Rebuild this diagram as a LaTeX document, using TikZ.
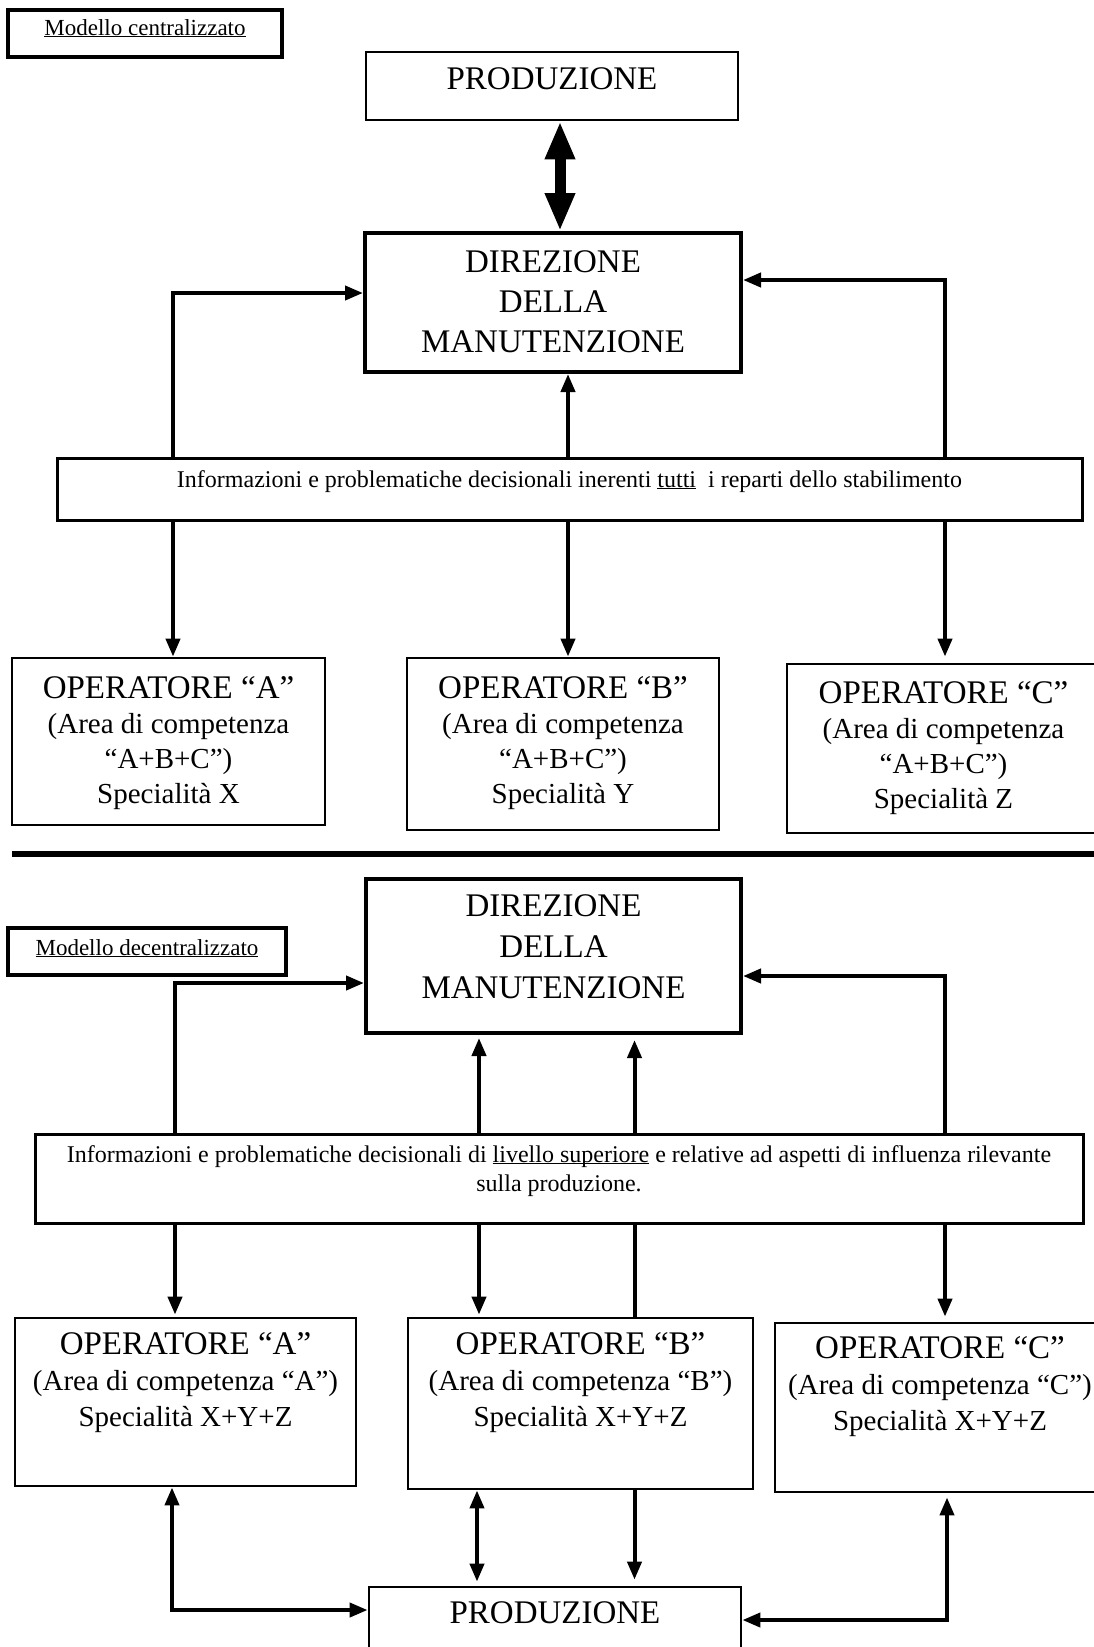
\documentclass[tikz,border=0pt]{standalone}
\usepackage{fontspec}
\setmainfont{Liberation Serif}
\usetikzlibrary{arrows.meta}
\newsavebox\ulbox
\newcommand\myul[1]{\sbox\ulbox{#1}\rlap{\rule[-2pt]{\wd\ulbox}{1.2pt}}\usebox\ulbox}
\newcommand\fsz[2]{\fontsize{#1}{#2}\selectfont}
\begin{document}
\begin{tikzpicture}[x=1pt,y=-1pt,
  box/.style={draw, rectangle, inner sep=0pt, line width=2.8pt},
  txt/.style={inner sep=0pt, outer sep=0pt, align=center},
  conn/.style={line width=4pt, -{Triangle[length=18pt,width=14pt]}},
  dconn/.style={line width=4pt, {Triangle[length=18pt,width=14pt]}-{Triangle[length=18pt,width=14pt]}},
  plain/.style={line width=4pt},
  bigarrow/.style={line width=11pt, {Triangle[length=38pt,width=28pt]}-{Triangle[length=38pt,width=28pt]}}
  ]
\path[use as bounding box] (0,0) rectangle (1094,1647);
\clip (0,0) rectangle (1094,1647);

% ---------------- top: centralised model ----------------
\node[box, line width=3.3pt, minimum width=274pt, minimum height=47pt] (m1) at (145,33.5) {};
\node[txt, anchor=base, font=\fsz{23}{27}] (m1t) at (145,35) {\myul{Modello centralizzato}};

\node[box, minimum width=372pt, minimum height=68pt] (prodT) at (552,86) {};
\node[txt, anchor=base, font=\fsz{33}{40}] (prodTt) at (552,89) {PRODUZIONE};

\node[box, line width=4pt, minimum width=376pt, minimum height=139pt] (dirT) at (553,302.5) {};
\node[txt, anchor=north, font=\fsz{33}{40}] (dirTt) at (553,242) {\rule{0pt}{30pt}DIREZIONE\\DELLA\\MANUTENZIONE};

\node[box, line width=3pt, minimum width=1025pt, minimum height=62pt] (info1) at (569.5,489) {};
\node[txt, anchor=base, font=\fsz{24}{29}] (info1t) at (569.5,487) {Informazioni e problematiche decisionali inerenti \myul{tutti}\ \ i reparti dello stabilimento};

\node[box, minimum width=313pt, minimum height=167pt] (opA1) at (168.5,741.5) {};
\node[txt, anchor=north, font=\fsz{29}{35}] (opA1t) at (168.5,668) {{\fsz{33}{35}\rule{0pt}{30pt}OPERATORE “A”}\\(Area di competenza\\“A+B+C”)\\Specialità X};

\node[box, minimum width=312pt, minimum height=172pt] (opB1) at (563,744) {};
\node[txt, anchor=north, font=\fsz{29}{35}] (opB1t) at (563,668) {{\fsz{33}{35}\rule{0pt}{30pt}OPERATORE “B”}\\(Area di competenza\\“A+B+C”)\\Specialità Y};

\node[box, minimum width=313pt, minimum height=169pt] (opC1) at (943.5,748.5) {};
\node[txt, anchor=north, font=\fsz{29}{35}] (opC1t) at (943.5,673) {{\fsz{33}{35}\rule{0pt}{30pt}OPERATORE “C”}\\(Area di competenza\\“A+B+C”)\\Specialità Z};

\coordinate (xD) at (560,0);
\coordinate (cL1) at (173,293);
\coordinate (cR1) at (945,280);
\coordinate (xM1) at (568,0);

\draw[bigarrow] (prodT.south -| xD) -- (dirT.north -| xD);
\draw[conn] (info1.north -| cL1) |- (dirT.west |- cL1);
\draw[conn] (info1.north -| cR1) |- (dirT.east |- cR1);
\draw[conn] (info1.north -| xM1) -- (dirT.south -| xM1);
\draw[conn] (info1.south -| cL1) -- (opA1.north -| cL1);
\draw[conn] (info1.south -| xM1) -- (opB1.north -| xM1);
\draw[conn, shorten >=6pt] (info1.south -| cR1) -- (opC1.north -| cR1);

% separator
\draw[line width=6.5pt] (12,854) -- (1100,854);

% ---------------- bottom: decentralised model ----------------
\node[box, line width=4pt, minimum width=375pt, minimum height=154pt] (dirB) at (553.5,956) {};
\node[txt, anchor=north, font=\fsz{33}{41}] (dirBt) at (553.5,886) {\rule{0pt}{30pt}DIREZIONE\\DELLA\\MANUTENZIONE};

\node[box, line width=3.3pt, minimum width=278pt, minimum height=47pt] (m2) at (147,951.5) {};
\node[txt, anchor=base, font=\fsz{23}{27}] (m2t) at (147,955) {\myul{Modello decentralizzato}};

\node[box, line width=3pt, minimum width=1048pt, minimum height=89pt] (info2) at (559,1178.5) {};
\node[txt, anchor=north, font=\fsz{24}{29}] (info2t) at (559,1140) {\rule{0pt}{22pt}Informazioni e problematiche decisionali di \myul{livello superiore} e relative ad aspetti di influenza rilevante\\sulla produzione.};

\node[box, minimum width=341pt, minimum height=168pt] (opA2) at (185.5,1402) {};
\node[txt, anchor=north, font=\fsz{29}{36}] (opA2t) at (185.5,1324) {{\fsz{33}{36}\rule{0pt}{30pt}OPERATORE “A”}\\(Area di competenza “A”)\\Specialità X+Y+Z};

\node[box, minimum width=345pt, minimum height=171pt] (opB2) at (580.5,1403.5) {};
\node[txt, anchor=north, font=\fsz{29}{36}] (opB2t) at (580.5,1324) {{\fsz{33}{36}\rule{0pt}{30pt}OPERATORE “B”}\\(Area di competenza “B”)\\Specialità X+Y+Z};

\node[box, minimum width=330pt, minimum height=169pt] (opC2) at (940,1407.5) {};
\node[txt, anchor=north, font=\fsz{29}{36}] (opC2t) at (940,1328) {{\fsz{33}{36}\rule{0pt}{30pt}OPERATORE “C”}\\(Area di competenza “C”)\\Specialità X+Y+Z};

\node[box, minimum width=372pt, minimum height=93pt] (prodB) at (555,1633.5) {};
\node[txt, anchor=base, font=\fsz{33}{40}] (prodBt) at (555,1623) {PRODUZIONE};

\coordinate (cL2) at (175,983);
\coordinate (cR2) at (945,976);
\coordinate (xU1) at (479,0);
\coordinate (xU2) at (634.5,0);
\coordinate (cAP) at (172,1610);
\coordinate (xBP) at (477,0);
\coordinate (cCP) at (947,1620);

\draw[conn] (info2.north -| cL2) |- (dirB.west |- cL2);
\draw[conn] (info2.north -| cR2) |- (dirB.east |- cR2);
\draw[conn, shorten >=3pt] (info2.north -| xU1) -- (dirB.south -| xU1);
\draw[conn, shorten >=5pt] (info2.north -| xU2) -- (dirB.south -| xU2);
\draw[conn, shorten >=2pt] (info2.south -| cL2) -- (opA2.north -| cL2);
\draw[conn, shorten >=2pt] (info2.south -| xU1) -- (opB2.north -| xU1);
\draw[plain] (opB2.north -| xU2) -- (info2.south -| xU2);
\draw[conn, shorten >=5pt] (info2.south -| cR2) -- (opC2.north -| cR2);
\draw[dconn] (opA2.south -| cAP) |- (prodB.west |- cAP);
\draw[dconn, shorten >=4pt] (opB2.south -| xBP) -- (prodB.north -| xBP);
\draw[conn, shorten >=6pt] (opB2.south -| xU2) -- (prodB.north -| xU2);
\draw[dconn, shorten <=4pt] (opC2.south -| cCP) |- (prodB.east |- cCP);
\end{tikzpicture}
\end{document}
